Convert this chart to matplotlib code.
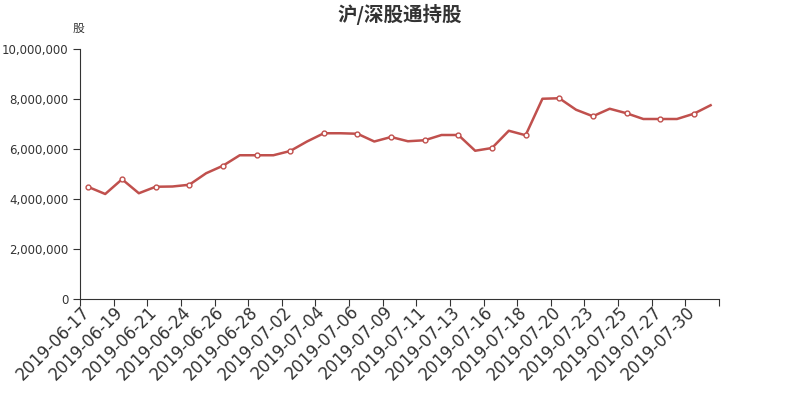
import matplotlib
matplotlib.use("Agg")
import matplotlib.pyplot as plt
from matplotlib.ticker import FuncFormatter
from matplotlib.transforms import ScaledTranslation, blended_transform_factory

plt.rcParams['font.family'] = ['Noto Sans CJK SC', 'DejaVu Sans']

# 交易日期
dates = ["2019-06-17", "2019-06-18", "2019-06-19", "2019-06-20", "2019-06-21",
         "2019-06-22", "2019-06-24", "2019-06-25", "2019-06-26", "2019-06-27",
         "2019-06-28", "2019-07-01", "2019-07-02", "2019-07-03", "2019-07-04",
         "2019-07-05", "2019-07-06", "2019-07-08", "2019-07-09", "2019-07-10",
         "2019-07-11", "2019-07-12", "2019-07-13", "2019-07-15", "2019-07-16",
         "2019-07-17", "2019-07-18", "2019-07-19", "2019-07-20", "2019-07-22",
         "2019-07-23", "2019-07-24", "2019-07-25", "2019-07-26", "2019-07-27",
         "2019-07-29", "2019-07-30", "2019-07-31"]

# 持股数量 (股)
shares = [4480000, 4200000, 4790000, 4230000, 4490000,
          4500000, 4570000, 5030000, 5330000, 5750000,
          5750000, 5750000, 5920000, 6300000, 6630000,
          6630000, 6610000, 6300000, 6480000, 6310000,
          6350000, 6560000, 6560000, 5930000, 6040000,
          6730000, 6550000, 8010000, 8030000, 7570000,
          7310000, 7610000, 7430000, 7200000, 7200000,
          7200000, 7410000, 7750000]

color = '#c0504d'
dark = '#333333'

fig = plt.figure(figsize=(8, 4), dpi=100)
ax = fig.add_axes([0.10, 0.2525, 0.79875, 0.625])

x = list(range(len(dates)))
ax.plot(x, shares, color=color, linewidth=1.8, zorder=2)
ax.plot(x[::2], shares[::2], linestyle='none', marker='o', markersize=3.5,
        markerfacecolor='white', markeredgecolor=color, markeredgewidth=1, zorder=3)

ax.set_xlim(-0.5, len(dates) - 0.5)
ax.set_ylim(0, 10000000)

# 类目刻度在两格之间，标签每隔一个显示
ticks = [i - 0.5 for i in range(0, len(dates), 2)] + [len(dates) - 0.5]
ax.set_xticks(ticks)
ax.set_xticklabels([])
trans = blended_transform_factory(ax.transData, ax.transAxes) + \
    ScaledTranslation(7 / 100, -10 / 100, fig.dpi_scale_trans)
for i in range(0, len(dates), 2):
    ax.text(i - 0.5, 0, dates[i], transform=trans, rotation=45,
            ha='right', va='center', rotation_mode='anchor',
            fontsize=12, color=dark, family='DejaVu Sans', clip_on=False)

ax.set_yticks(range(0, 10000001, 2000000))
ax.yaxis.set_major_formatter(FuncFormatter(lambda v, p: f"{int(v):,}"))
for lab in ax.get_yticklabels():
    lab.set_fontsize(8.5)
    lab.set_color(dark)
    lab.set_family('DejaVu Sans')

for s in ['top', 'right']:
    ax.spines[s].set_visible(False)
for s in ['left', 'bottom']:
    ax.spines[s].set_color(dark)
ax.tick_params(axis='both', colors=dark, length=5, direction='out')

fig.text(0.5, 0.965, "沪/深股通持股", ha='center', va='center',
         fontsize=14, fontweight='bold', color=dark)
fig.text(0.098, 0.928, "股", ha='center', va='center', fontsize=8.5, color=dark)

fig.savefig("out.png", dpi=100)
